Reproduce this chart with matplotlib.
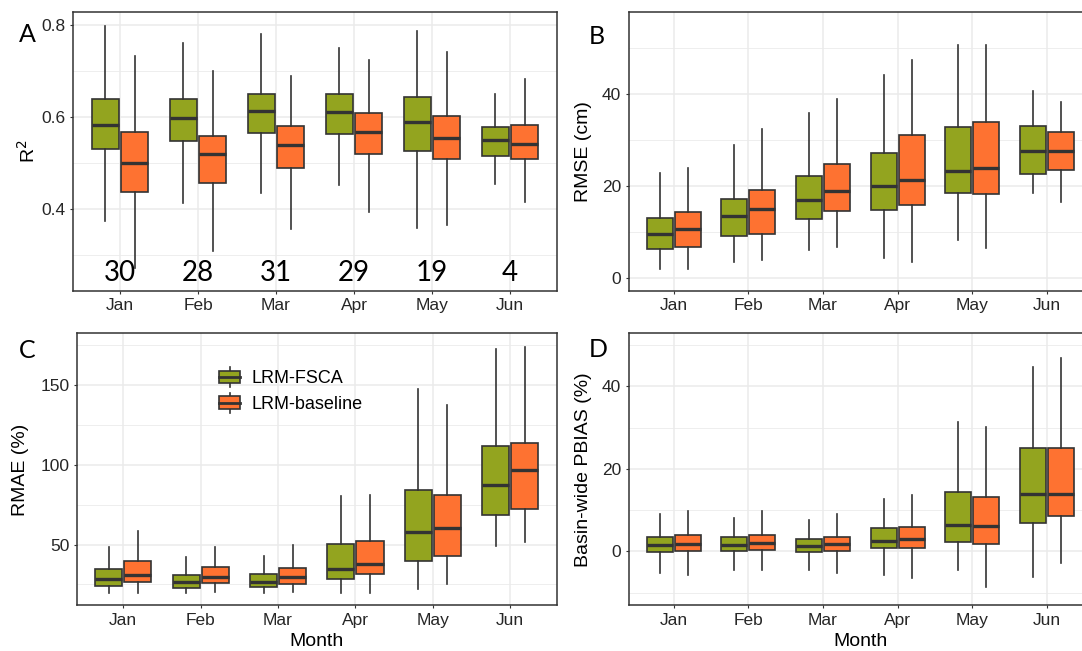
import numpy as np
import matplotlib
matplotlib.use('Agg')
import matplotlib.pyplot as plt
from matplotlib.patches import Rectangle
from matplotlib.lines import Line2D
from matplotlib.legend_handler import HandlerBase
from matplotlib.ticker import MultipleLocator

plt.rcParams['font.family'] = ['Liberation Sans', 'DejaVu Sans']

months = ['Jan', 'Feb', 'Mar', 'Apr', 'May', 'Jun']
n_years = [30, 28, 31, 29, 19, 4]

# each month: (whisker low, Q1, median, Q3, whisker high)
r2_fsca = [(0.375, 0.531, 0.582, 0.640, 0.797), (0.413, 0.549, 0.598, 0.640, 0.760),
           (0.436, 0.566, 0.613, 0.651, 0.780), (0.453, 0.563, 0.611, 0.651, 0.749),
           (0.359, 0.527, 0.590, 0.643, 0.786), (0.455, 0.515, 0.550, 0.578, 0.649)]
r2_base = [(0.272, 0.438, 0.501, 0.567, 0.733), (0.310, 0.456, 0.520, 0.558, 0.700),
           (0.357, 0.490, 0.539, 0.580, 0.690), (0.395, 0.520, 0.567, 0.609, 0.723),
           (0.366, 0.508, 0.555, 0.602, 0.742), (0.416, 0.510, 0.542, 0.582, 0.683)]

rmse_fsca = [(1.95, 6.4, 9.6, 13.1, 22.75), (3.6, 9.2, 13.6, 17.1, 28.8),
             (6.2, 12.9, 17.0, 22.2, 35.8), (4.5, 14.9, 20.1, 27.2, 44.0),
             (8.2, 18.4, 23.2, 32.8, 50.5), (18.4, 22.6, 27.6, 32.9, 40.5)]
rmse_base = [(1.95, 6.8, 10.6, 14.4, 24.0), (4.0, 9.7, 15.0, 19.2, 32.3),
             (6.8, 14.5, 19.0, 24.7, 38.9), (3.6, 15.8, 21.3, 31.0, 47.2),
             (6.6, 18.2, 24.0, 33.9, 50.6), (16.5, 23.4, 27.6, 31.8, 38.1)]

rmae_fsca = [(19.9, 24.1, 28.2, 34.5, 48.3), (19.9, 23.0, 26.8, 30.8, 42.5),
             (19.9, 23.4, 26.8, 31.4, 42.9), (19.9, 28.5, 34.7, 50.6, 80.5),
             (22.0, 40.0, 57.7, 84.1, 147.5), (49.0, 68.4, 87.4, 112.1, 172.6)]
rmae_base = [(19.9, 26.6, 30.8, 39.7, 58.8), (20.5, 25.7, 29.9, 35.8, 48.3),
             (20.5, 25.3, 29.9, 35.1, 49.6), (19.9, 31.4, 37.7, 52.1, 81.2),
             (25.1, 42.9, 60.7, 81.0, 137.7), (51.5, 72.4, 96.6, 114.0, 173.8)]

pbias_fsca = [(-5.3, -0.1, 1.45, 3.6, 9.0), (-4.5, 0.0, 1.45, 3.4, 8.1),
              (-4.4, -0.1, 1.3, 3.1, 7.7), (-5.7, 0.8, 2.6, 5.7, 12.8),
              (-4.5, 2.2, 6.3, 14.5, 31.4), (-6.3, 7.0, 13.8, 25.0, 44.8)]
pbias_base = [(-5.7, 0.2, 1.9, 4.0, 9.9), (-4.5, 0.4, 2.1, 4.1, 9.7),
              (-5.1, 0.1, 1.9, 3.6, 9.0), (-6.5, 0.9, 3.0, 6.0, 13.7),
              (-8.7, 1.9, 6.2, 13.3, 30.2), (-2.8, 8.6, 13.9, 25.0, 46.8)]

green = '#93A41F'
orange = '#FE7231'
edge = '#333333'
grid_col = '#EBEBEB'


def draw_panel(ax, fsca, base, ylim, major, minor, ylabel, labx):
    x = np.arange(1, len(months) + 1)
    for stats, off, col in ((fsca, -0.1875, green), (base, 0.1875, orange)):
        bx = [dict(whislo=s[0], q1=s[1], med=s[2], q3=s[3], whishi=s[4], fliers=[]) for s in stats]
        ax.bxp(bx, positions=x + off, widths=0.35, patch_artist=True,
               showcaps=False, showfliers=False, manage_ticks=False,
               boxprops=dict(facecolor=col, edgecolor=edge, linewidth=1.2),
               medianprops=dict(color=edge, linewidth=2.4, solid_capstyle='butt'),
               whiskerprops=dict(color=edge, linewidth=1.2))
    ax.set_xlim(0.4, 6.6)
    ax.set_ylim(*ylim)
    ax.set_xticks(x)
    ax.set_xticklabels(months)
    ax.yaxis.set_major_locator(MultipleLocator(major))
    ax.yaxis.set_minor_locator(MultipleLocator(minor))
    ax.set_axisbelow(True)
    ax.grid(which='major', color=grid_col, lw=1.1)
    ax.grid(which='minor', axis='y', color=grid_col, lw=0.6)
    ax.tick_params(which='major', length=2.4, width=0.8, color=edge,
                   labelsize=12.5, labelcolor='#262626', pad=3)
    ax.tick_params(which='minor', length=0)
    for sp in ax.spines.values():
        sp.set_color(edge)
        sp.set_linewidth(1.1)
    ax.set_ylabel(ylabel, fontsize=14, va='center')
    ax.yaxis.set_label_coords(labx, 0.5)


fig = plt.figure(figsize=(10.82, 6.51), dpi=100)
axA = fig.add_axes([0.06775, 0.5530, 0.44677, 0.4281])
axB = fig.add_axes([0.58115, 0.5530, 0.42800, 0.4281])
axC = fig.add_axes([0.07098, 0.0699, 0.44353, 0.4181])
axD = fig.add_axes([0.58115, 0.0699, 0.42800, 0.4181])

draw_panel(axA, r2_fsca, r2_base, (0.223, 0.827), 0.2, 0.1, 'R$^2$', -0.094)
draw_panel(axB, rmse_fsca, rmse_base, (-2.75, 57.64), 20, 10, 'RMSE (cm)', -0.0985)
draw_panel(axC, rmae_fsca, rmae_base, (11.8, 182.6), 50, 25, 'RMAE (%)', -0.117)
draw_panel(axD, pbias_fsca, pbias_base, (-13.09, 52.84), 20, 10, 'Basin-wide PBIAS (%)', -0.0985)

for ax in (axC, axD):
    ax.set_xlabel('Month', fontsize=14, va='center')
    ax.xaxis.set_label_coords(0.5, -0.133)

# number of years per month in panel A
for i, n in enumerate(n_years):
    axA.text(i + 1, 0.261, str(n), ha='center', va='center', fontsize=20, family='Lato')

for lab, fx, fy in (('A', 27, 35), ('B', 597, 37), ('C', 27, 350), ('D', 598, 349)):
    fig.text(fx / 1082, 1 - fy / 651, lab, ha='center', va='center', fontsize=18, family='Lato')


class BoxKey(HandlerBase):
    def create_artists(self, legend, orig, xd, yd, w, h, fontsize, trans):
        x0, y0 = -xd, -yd
        box = Rectangle((x0, y0), w, h, facecolor=orig.get_facecolor(),
                        edgecolor=edge, lw=1.2, transform=trans)
        med = Line2D([x0, x0 + w], [y0 + h / 2] * 2, color=edge, lw=2.0, transform=trans)
        up = Line2D([x0 + w / 2] * 2, [y0 + h, y0 + h + 2.5], color=edge, lw=1.2, transform=trans)
        dn = Line2D([x0 + w / 2] * 2, [y0, y0 - 2.5], color=edge, lw=1.2, transform=trans)
        return [up, dn, box, med]


handles = [Rectangle((0, 0), 1, 1, facecolor=green), Rectangle((0, 0), 1, 1, facecolor=orange)]
axC.legend(handles, ['LRM-FSCA', 'LRM-baseline'], loc='center left',
           bbox_to_anchor=(0.2969, 0.7855), frameon=False, fontsize=13,
           handlelength=1.15, handleheight=0.7, handletextpad=0.63,
           labelspacing=0.48, borderpad=0, borderaxespad=0,
           handler_map={Rectangle: BoxKey()})

fig.savefig('out.png', dpi=100)
